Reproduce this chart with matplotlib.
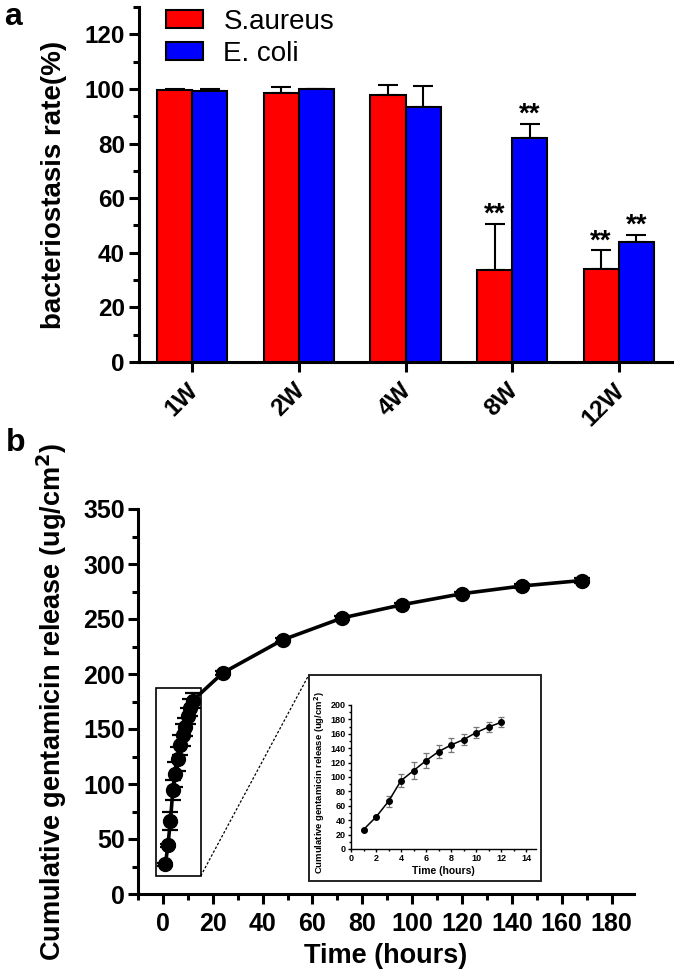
import matplotlib
matplotlib.use('Agg')
import matplotlib.pyplot as plt
import matplotlib.transforms as mtransforms
import numpy as np
from matplotlib.patches import Rectangle
from matplotlib.ticker import MultipleLocator

plt.rcParams['font.family'] = ['Liberation Sans', 'DejaVu Sans']

# ---------------- data: panel a ----------------
weeks = ['1W', '2W', '4W', '8W', '12W']
sa_mean = [99.6, 98.5, 97.6, 33.8, 34.0]
sa_err = [0.3, 2.3, 3.9, 16.8, 6.9]
ec_mean = [99.4, 99.9, 93.3, 82.2, 43.8]
ec_err = [0.6, 0.2, 7.8, 5.1, 2.7]
sa_sig = ['', '', '', '**', '**']
ec_sig = ['', '', '', '**', '**']

# ---------------- data: panel b ----------------
time_h = [1, 2, 3, 4, 5, 6, 7, 8, 9, 10, 11, 12, 24, 48, 72, 96, 120, 144, 168]
release = [26.9, 44.4, 66.2, 94.9, 108.8, 122.7, 135.2, 144.4, 151.9, 161.6,
           169.4, 175.9, 201, 231, 251, 263, 273, 280, 285]
release_err = [1.5, 1.5, 8, 9, 11.5, 10.5, 9, 10, 8, 7.5, 7.5, 7, 2, 2, 2, 2, 2, 2, 2]
n_inset = 12

W, H = 675, 976
fig = plt.figure(figsize=(W / 100, H / 100), dpi=100)

LW = 2.2

def style_axes(ax, lw=LW):
    for s in ['top', 'right']:
        ax.spines[s].set_visible(False)
    for s in ['left', 'bottom']:
        ax.spines[s].set_linewidth(lw)

# ---------------- panel a ----------------
ax1 = fig.add_axes([139 / W, 1 - 362 / H, 533 / W, 355 / H])
style_axes(ax1)
x = np.arange(len(weeks))
w = 0.33
ax1.bar(x - w / 2, sa_mean, w, color='#ff0000', edgecolor='black', linewidth=1.5,
        label='S.aureus', zorder=3)
ax1.bar(x + w / 2, ec_mean, w, color='#0000ff', edgecolor='black', linewidth=1.5,
        label='E. coli', zorder=3)
ax1.errorbar(x - w / 2, sa_mean, yerr=[np.zeros(len(x)), sa_err], fmt='none',
             ecolor='black', elinewidth=1.5, capsize=7, capthick=1.5, zorder=2)
ax1.errorbar(x + w / 2, ec_mean, yerr=[np.zeros(len(x)), ec_err], fmt='none',
             ecolor='black', elinewidth=1.5, capsize=7, capthick=1.5, zorder=2)
for xi, m, e, s in zip(x - w / 2, sa_mean, sa_err, sa_sig):
    if s:
        ax1.text(xi, m + e - 1.5, s, ha='center', va='bottom', fontsize=20, fontweight='bold')
for xi, m, e, s in zip(x + w / 2, ec_mean, ec_err, ec_sig):
    if s:
        ax1.text(xi, m + e - 1.5, s, ha='center', va='bottom', fontsize=20, fontweight='bold')

ax1.set_xlim(-0.5, 4.5)
ax1.set_ylim(0, 130)
ax1.set_yticks(np.arange(0, 121, 20))
ax1.yaxis.set_minor_locator(MultipleLocator(10))
ax1.set_xticks(x)
ax1.set_xticklabels([])
# rotated category labels, slightly left of each tick as in the original
lab_tr = ax1.get_xaxis_transform() + mtransforms.ScaledTranslation(-6 / 100, -17 / 100,
                                                                     fig.dpi_scale_trans)
for xi, lab in zip(x, weeks):
    ax1.text(xi, 0, lab, transform=lab_tr, rotation=45, ha='right', va='top',
             rotation_mode='anchor', fontsize=17.5, fontweight='bold')
for lab in ax1.get_yticklabels():
    lab.set_fontsize(17.5)
    lab.set_fontweight('bold')
ax1.tick_params(axis='y', which='major', length=7.2, width=LW, pad=3)
ax1.tick_params(axis='x', which='major', length=7.2, width=LW, pad=6)
ax1.tick_params(axis='y', which='minor', length=4.3, width=LW)
ax1.set_ylabel('bacteriostasis rate(%)', fontsize=20, fontweight='bold')
ax1.yaxis.set_label_coords(-0.135, 0.5)
ax1.legend(loc='upper left', bbox_to_anchor=(0.05, 0.995), frameon=False, fontsize=20,
           handlelength=1.33, handleheight=0.66, handletextpad=0.75, labelspacing=0.22,
           borderpad=0, borderaxespad=0)

fig.text(4 / W, 1 - 2 / H, 'a', fontsize=23, fontweight='bold', ha='left', va='top')

# ---------------- panel b ----------------
ax2 = fig.add_axes([138 / W, 1 - 894 / H, 496 / W, 385 / H])
style_axes(ax2)
ax2.errorbar(time_h, release, yerr=release_err, fmt='-o', color='black', lw=2.6,
             ms=10, capsize=6, elinewidth=1.6, capthick=1.6, zorder=3)
ax2.set_xlim(-10, 189)
ax2.set_ylim(0, 350)
ax2.set_xticks(np.arange(0, 181, 20))
ax2.set_yticks(np.arange(0, 351, 50))
ax2.xaxis.set_minor_locator(MultipleLocator(10))
ax2.yaxis.set_minor_locator(MultipleLocator(25))
for lab in ax2.get_xticklabels() + ax2.get_yticklabels():
    lab.set_fontsize(18)
    lab.set_fontweight('bold')
ax2.tick_params(axis='x', which='major', length=7.2, width=LW, pad=6)
ax2.tick_params(axis='y', which='major', length=7.2, width=LW, pad=2)
ax2.tick_params(axis='both', which='minor', length=4.3, width=LW)
ax2.set_xlabel('Time (hours)', fontsize=19.5, fontweight='bold')
ax2.xaxis.set_label_coords(0.5, -0.127)
ax2.set_ylabel('Cumulative gentamicin release (ug/cm$^\\mathbf{2}$)', fontsize=19.5,
               fontweight='bold')
ax2.yaxis.set_label_coords(-0.139, 0.5)

# zoom rectangle, inset frame and connector
ax2.add_patch(Rectangle((-2.8, 16.5), 18.0, 170.5, fill=False, lw=1.2, ec='black', zorder=4))
ax2.add_patch(Rectangle((58.5, 11.8), 93.1, 187.2, fill=False, lw=1.4, ec='#222222',
                        zorder=4, clip_on=False))
ax2.plot([15.2, 58.5], [16.5, 199.0], ls=(0, (2, 1.5)), color='black', lw=0.9, zorder=4)

fig.text(6 / W, 1 - 428 / H, 'b', fontsize=23, fontweight='bold', ha='left', va='top')

# ---------------- inset ----------------
ax3 = fig.add_axes([351 / W, 1 - 849 / H, 185 / W, 144 / H])
style_axes(ax3, lw=1.0)
ax3.errorbar(time_h[:n_inset], release[:n_inset], yerr=release_err[:n_inset], fmt='-o',
             color='black', ecolor='#777777', lw=1.1, ms=4, capsize=2.5,
             elinewidth=0.9, capthick=0.9, zorder=3)
ax3.set_xlim(0, 14.8)
ax3.set_ylim(0, 200)
ax3.set_xticks(np.arange(0, 15, 2))
ax3.set_yticks(np.arange(0, 201, 20))
ax3.xaxis.set_minor_locator(MultipleLocator(1))
ax3.yaxis.set_minor_locator(MultipleLocator(10))
for lab in ax3.get_xticklabels() + ax3.get_yticklabels():
    lab.set_fontsize(6.5)
    lab.set_fontweight('bold')
ax3.tick_params(axis='both', which='major', length=2.5, width=1.0, pad=1.2)
ax3.tick_params(axis='both', which='minor', length=1.5, width=1.0)
ax3.set_xlabel('Time (hours)', fontsize=7.5, fontweight='bold')
ax3.xaxis.set_label_coords(0.5, -0.12)
ax3.set_ylabel('Cumulative gentamicin release (ug/cm$^\\mathbf{2}$)', fontsize=6.8,
               fontweight='bold')
ax3.yaxis.set_label_coords(-0.13, 0.46)

fig.savefig('out.png', dpi=100)
